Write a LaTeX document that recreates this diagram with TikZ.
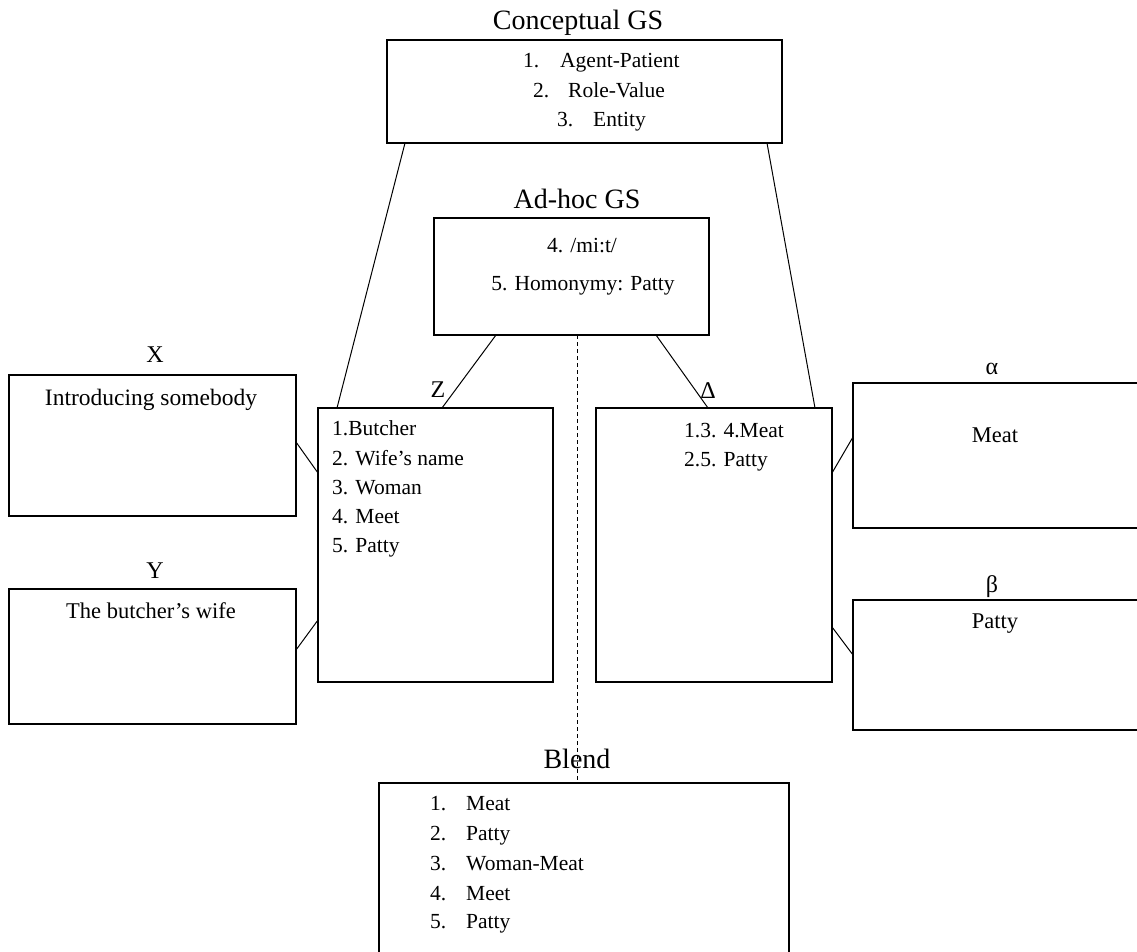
\documentclass[tikz,border=0pt]{standalone}
\usepackage{fontspec}
\setmainfont{Liberation Serif}
\begin{document}
\begin{tikzpicture}[x=1pt,y=-1pt,
  frame/.style={draw, line width=1.2pt, inner sep=0pt},
  link/.style={line width=1pt},
  body/.style={font=\fontsize{21.5}{25}\selectfont, inner sep=0pt, anchor=base west},
  bodyc/.style={font=\fontsize{21.5}{25}\selectfont, inner sep=0pt, anchor=base},
  side/.style={font=\fontsize{22.5}{26}\selectfont, inner sep=0pt, anchor=base},
  title/.style={font=\fontsize{28}{32}\selectfont, inner sep=0pt, anchor=base},
  tag/.style={font=\fontsize{24}{28}\selectfont, inner sep=0pt, anchor=base}]
\useasboundingbox (0,0) rectangle (1137,952);

% boxes
\draw[frame] (387,40) rectangle (782,143);
\draw[frame] (434,218) rectangle (709,335);
\draw[frame] (318,408) rectangle (553,682);
\draw[frame] (596,408) rectangle (832,682);
\draw[frame] (9,375) rectangle (296,516);
\draw[frame] (9,589) rectangle (296,724);
\draw[frame] (853,383) rectangle (1145,528);
\draw[frame] (853,600) rectangle (1145,730);
\draw[frame] (379,783) rectangle (789,960);

% connector end points
\coordinate (cgsL) at (405,143);
\coordinate (cgsR) at (767,143);
\coordinate (zTopL) at (337,408);
\coordinate (dTopR) at (815,408);
\coordinate (ahL) at (496,335);
\coordinate (ahR) at (656,335);
\coordinate (ahM) at (577,335);
\coordinate (zTopM) at (442,408);
\coordinate (dTopL) at (708,408);
\coordinate (blTop) at (577,783);
\coordinate (xR) at (296,442);
\coordinate (zL1) at (318,473);
\coordinate (yR) at (296,650);
\coordinate (zL2) at (318,620);
\coordinate (dR1) at (832,473);
\coordinate (aL) at (853,437);
\coordinate (dR2) at (832,627);
\coordinate (bL) at (853,655);

% connectors
\draw[link] (cgsL) -- (zTopL);
\draw[link] (cgsR) -- (dTopR);
\draw[link] (ahL) -- (zTopM);
\draw[link] (ahR) -- (dTopL);
\draw[link, dash pattern=on 4pt off 3pt] (ahM) -- (blTop);
\draw[link] (xR) -- (zL1);
\draw[link] (yR) -- (zL2);
\draw[link] (dR1) -- (aL);
\draw[link] (dR2) -- (bL);

% titles
\node[title] (tcgs) at (578,30) {Conceptual GS};
\node[title] (tahgs) at (577,208) {Ad-hoc GS};
\node[title] (tblend) at (577,768) {Blend};
\node[tag] (tx) at (155,362) {X};
\node[tag] (ty) at (155,578) {Y};
\node[tag] (tz) at (438,397) {Z};
\node[tag] (td) at (708,398) {Δ};
\node[tag] (ta) at (992,374) {α};
\node[tag] (tb) at (992,592) {β};

% conceptual GS list
\node[body] (c1n) at (523,68) {1.};
\node[body] (c1t) at (560,68) {Agent-Patient};
\node[body] (c2n) at (533,98) {2.};
\node[body] (c2t) at (568,98) {Role-Value};
\node[body] (c3n) at (557,127) {3.};
\node[body] (c3t) at (593,127) {Entity};

% ad-hoc GS
\node[bodyc] (a4) at (582,252) {4. /mi:t/};
\node[bodyc] (a5) at (583,290) {5. Homonymy: Patty};

% Z
\node[body] (z1) at (332,435) {1.Butcher};
\node[body] (z2) at (332,465) {2. Wife’s name};
\node[body] (z3) at (332,494) {3. Woman};
\node[body] (z4) at (332,523) {4. Meet};
\node[body] (z5) at (332,552) {5. Patty};

% Delta
\node[body] (d1) at (684,437) {1.3. 4.Meat};
\node[body] (d2) at (684,466) {2.5. Patty};

% side spaces
\node[side, font=\fontsize{23.5}{27}\selectfont] (xt) at (151,405) {Introducing somebody};
\node[side] (yt) at (151,618) {The butcher’s wife};
\node[side] (at) at (995,442) {Meat};
\node[side] (bt) at (995,628) {Patty};

% blend list
\node[body] (b1n) at (430,810) {1.};
\node[body] (b1t) at (466,810) {Meat};
\node[body] (b2n) at (430,840) {2.};
\node[body] (b2t) at (466,840) {Patty};
\node[body] (b3n) at (430,870) {3.};
\node[body] (b3t) at (466,870) {Woman-Meat};
\node[body] (b4n) at (430,900) {4.};
\node[body] (b4t) at (466,900) {Meet};
\node[body] (b5n) at (430,928) {5.};
\node[body] (b5t) at (466,928) {Patty};
\end{tikzpicture}
\end{document}
